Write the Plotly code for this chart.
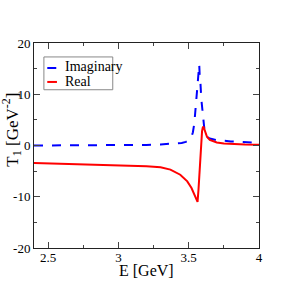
import plotly.graph_objects as go

energy_imag = [2.4, 2.6, 2.8, 3.0, 3.1, 3.2, 3.3, 3.4, 3.45, 3.48, 3.5, 3.52, 3.53, 3.54,
               3.55, 3.56, 3.565, 3.57, 3.575, 3.578, 3.582, 3.59, 3.6, 3.605, 3.61, 3.62,
               3.635, 3.65, 3.7, 3.8, 3.9, 4.0]
imag_vals = [0.0, 0.0, 0.02, 0.05, 0.08, 0.12, 0.2, 0.35, 0.5, 0.7, 1.0, 1.7, 2.6, 4.3,
             7.5, 11.5, 13.5, 15.0, 15.8, 13.8, 13.0, 9.0, 6.0, 4.8, 3.6, 2.3,
             1.6, 1.35, 1.05, 0.8, 0.6, 0.5]

energy_real = [2.4, 2.6, 2.8, 3.0, 3.1, 3.2, 3.3, 3.37, 3.44, 3.49, 3.52, 3.54, 3.55,
               3.557, 3.563, 3.57, 3.575, 3.58, 3.585, 3.59, 3.595, 3.6, 3.605, 3.61,
               3.62, 3.63, 3.65, 3.7, 3.75, 3.8, 3.9, 4.0]
real_vals = [-3.4, -3.55, -3.7, -3.85, -3.95, -4.05, -4.25, -4.7, -5.7, -7.0, -8.3, -9.5, -10.1,
             -10.7, -11.0, -8.5, -6.0, -3.5, -1.0, 1.0, 2.8, 3.5, 3.7, 3.3,
             2.4, 1.7, 1.1, 0.6, 0.4, 0.3, 0.2, 0.15]

series_names = ["Imaginary", "Real"]
series_colors = ["#0000ff", "#ff0000"]

x_ticks = [2.5, 3, 3.5, 4]
x_ticklabels = ["2.5", "3", "3.5", "4"]
y_ticks = [-20, -10, 0, 10, 20]
y_ticklabels = ["-20", "-10", "0", "10", "20"]

font_family = "Liberation Serif"

fig = go.Figure()
fig.add_trace(go.Scatter(x=energy_imag, y=imag_vals, mode="lines", name=series_names[0],
                         showlegend=False, hoverinfo="skip",
                         line=dict(color=series_colors[0], width=2, dash="dash")))
fig.add_trace(go.Scatter(x=energy_real, y=real_vals, mode="lines", name=series_names[1],
                         showlegend=False, hoverinfo="skip",
                         line=dict(color=series_colors[1], width=2)))

axis_common = dict(showline=True, linecolor="#222", linewidth=1, mirror="allticks",
                   ticks="inside", ticklen=6, tickcolor="#444", showgrid=False,
                   zeroline=False, automargin=False,
                   tickfont=dict(family=font_family, size=13, color="black"))

fig.update_xaxes(range=[2.4, 4.0], tickvals=x_ticks, ticktext=x_ticklabels,
                 ticklabelstandoff=-3,
                 minor=dict(dtick=0.25, ticks="inside", ticklen=3, tickcolor="#444", showgrid=False),
                 **axis_common)
fig.update_yaxes(range=[-20, 20], tickvals=y_ticks, ticktext=y_ticklabels,
                 minor=dict(dtick=5, ticks="inside", ticklen=3, tickcolor="#444", showgrid=False),
                 **axis_common)

# axis titles
fig.add_annotation(text="E [GeV]", xref="paper", yref="paper", x=0.5, y=-0.108,
                   xanchor="center", yanchor="middle", showarrow=False,
                   font=dict(family=font_family, size=16, color="black"))
fig.add_annotation(text="T<sub>1</sub> [GeV<sup>-2</sup>]", xref="paper", yref="paper",
                   x=-0.1, y=0.575, xanchor="center", yanchor="middle", showarrow=False,
                   textangle=-90, font=dict(family=font_family, size=17, color="black"))

# legend box drawn as shapes + text
fig.add_shape(type="rect", xref="paper", yref="paper", x0=0.044, x1=0.35, y0=0.772, y1=0.932,
              line=dict(color="#888", width=1), fillcolor="white", layer="above")
fig.add_shape(type="line", xref="paper", yref="paper", x0=0.059, x1=0.108, y0=0.878, y1=0.878,
              line=dict(color=series_colors[0], width=2, dash="dash"), layer="above")
fig.add_shape(type="line", xref="paper", yref="paper", x0=0.059, x1=0.102, y0=0.810, y1=0.810,
              line=dict(color=series_colors[1], width=2), layer="above")
fig.add_annotation(text=series_names[0], xref="paper", yref="paper", x=0.128, y=0.886,
                   xanchor="left", yanchor="middle", showarrow=False,
                   font=dict(family=font_family, size=14, color="black"))
fig.add_annotation(text=series_names[1], xref="paper", yref="paper", x=0.128, y=0.813,
                   xanchor="left", yanchor="middle", showarrow=False,
                   font=dict(family=font_family, size=14, color="black"))

fig.update_layout(
    width=291, height=291,
    margin=dict(l=34, r=32, t=43, b=43),
    plot_bgcolor="white", paper_bgcolor="white",
    showlegend=False,
)

# remove the default page margin so the figure sits at the window's top-left corner
fig.write_html("out.html", config={"displayModeBar": False},
               post_script="document.body.style.margin='0';")
